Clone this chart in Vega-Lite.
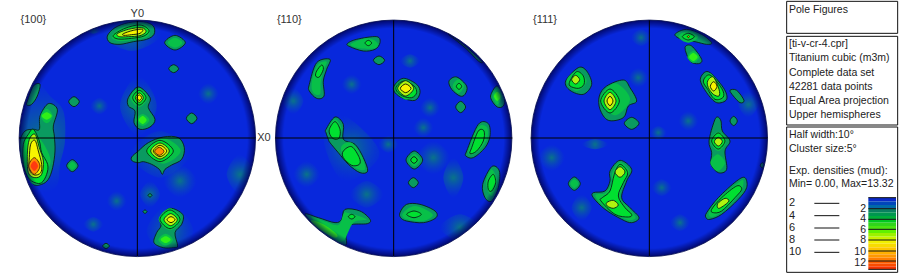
{"$schema":"https://vega.github.io/schema/vega-lite/v6.json","padding":0,"bounds":"flush","spacing":0,"background":"white","config":{"view":{"stroke":null}},
"datasets":{
"a":[
{"id":"a1","level":1,"xs":[655,625,595,625],"ys":[278,310,278,246]},
{"id":"a2","level":1,"xs":[326,298,270,298],"ys":[315,340,315,290]},
{"id":"a3","level":1,"xs":[85,105,150,190,195,180,170,120,75,60],"ys":[290,235,285,330,420,490,555,575,520,400]},
{"id":"a4","level":1,"xs":[310,280,250,280],"ys":[670,692,670,648]},
{"id":"a5","level":1,"xs":[380,350,320,350],"ys":[600,630,600,570]},
{"id":"a6","level":1,"xs":[590,540,490,540],"ys":[540,590,540,490]},
{"id":"a7","level":1,"xs":[480,450,420,450],"ys":[580,620,580,540]},
{"id":"a8","level":1,"xs":[485,395,305,395],"ys":[100,150,100,50]},
{"id":"a9","level":1,"xs":[570,480,390,480],"ys":[460,530,460,390]},
{"id":"a10","level":1,"xs":[470,415,360,415],"ys":[315,405,315,225]},
{"id":"a11","level":1,"xs":[580,510,440,510],"ys":[690,770,690,610]},
{"id":"a12","level":1,"xs":[760,720,680,720],"ys":[520,580,520,460]},
{"id":"a13","level":1,"xs":[305,280,255,280],"ys":[88,98,88,78]},
{"id":"a20","level":2,"xs":[322,345,385,430,460,462,440,400,360,330],"ys":[105,80,65,62,75,100,115,122,130,125]},
{"id":"a21","level":2,"xs":[556,525,494,525],"ys":[125,147,125,103]},
{"id":"a22","level":2,"xs":[536,521,506,521],"ys":[203,215,203,191]},
{"id":"a23","level":2,"xs":[82,100,120,112,95,80],"ys":[300,255,250,285,310,312]},
{"id":"a24","level":2,"xs":[238,222,206,222],"ys":[302,317,302,287]},
{"id":"a25","level":2,"xs":[120,145,172,160,163,165,158,145,125,100,75,62,60,75,100,118],"ys":[345,308,325,375,405,450,500,535,550,550,510,470,420,390,385,385]},
{"id":"a26","level":2,"xs":[234,217,200,217],"ys":[494,512,494,476]},
{"id":"a27","level":2,"xs":[385,415,450,445,465,450,420,402,405,385],"ys":[290,258,290,320,355,378,385,365,330,315]},
{"id":"a28","level":2,"xs":[591,575,559,575],"ys":[352,368,352,336]},
{"id":"a29","level":2,"xs":[395,415,445,490,535,553,545,515,495,487,478,455,430,415,397],"ys":[468,450,425,408,410,440,475,492,505,520,505,490,482,485,480]},
{"id":"a30","level":2,"xs":[456,450,444,450],"ys":[583,588,583,578]},
{"id":"a31","level":2,"xs":[441,435,429,435],"ys":[632,637,632,627]},
{"id":"a32","level":2,"xs":[480,510,548,545,525,533,520,490,462,470,483],"ys":[650,622,640,670,695,735,740,740,725,695,675]},
{"id":"a33","level":2,"xs":[328,318,308,318],"ys":[735,743,735,727]},
{"id":"a40","level":3,"xs":[335,370,430,450,440,400,355],"ys":[105,78,68,90,108,116,120]},
{"id":"a41","level":3,"xs":[547,525,503,525],"ys":[125,140,125,110]},
{"id":"a42","level":3,"xs":[158,140,122,140],"ys":[345,367,345,323]},
{"id":"a43","level":3,"xs":[152,100,66,100],"ys":[480,550,460,395]},
{"id":"a44","level":3,"xs":[228,217,206,217],"ys":[494,506,494,482]},
{"id":"a45","level":3,"xs":[448,428,408,428],"ys":[357,375,357,339]},
{"id":"a46","level":3,"xs":[443,417,391,417],"ys":[290,318,290,262]},
{"id":"a47","level":3,"xs":[542,490,438,490],"ys":[450,488,450,412]},
{"id":"a48","level":3,"xs":[519,497,475,497],"ys":[716,734,716,698]},
{"id":"a49","level":3,"xs":[544,510,476,510],"ys":[655,688,655,622]},
{"id":"a60","level":4,"xs":[340,375,420,447,432,395,355],"ys":[103,82,72,88,105,112,114]},
{"id":"a61","level":4,"xs":[85,100,118,125,143,140,125,105,85,70,70],"ys":[400,385,420,455,490,520,545,545,530,490,430]},
{"id":"a62","level":4,"xs":[438,418,398,418],"ys":[290,312,290,268]},
{"id":"a63","level":4,"xs":[520,480,440,480],"ys":[450,482,450,418]},
{"id":"a64","level":4,"xs":[540,510,480,510],"ys":[655,683,655,627]},
{"id":"a70","level":5,"xs":[440,428,416,428],"ys":[357,369,357,345]},
{"id":"a71","level":5,"xs":[512,497,482,497],"ys":[716,726,716,706]},
{"id":"a72","level":5,"xs":[155,140,125,140],"ys":[345,356,345,334]},
{"id":"a80","level":6,"xs":[352,385,425,438,420,385,358],"ys":[98,85,80,92,104,107,107]},
{"id":"a81","level":6,"xs":[88,105,118,130,125,105,85,82],"ys":[415,400,440,480,520,530,515,460]},
{"id":"a82","level":6,"xs":[430,418,406,418],"ys":[290,304,290,276]},
{"id":"a83","level":6,"xs":[508,480,452,480],"ys":[450,474,450,426]},
{"id":"a84","level":6,"xs":[532,512,492,512],"ys":[656,674,656,638]},
{"id":"a90","level":8,"xs":[370,400,428,420,395,372],"ys":[98,88,85,97,101,103]},
{"id":"a91","level":8,"xs":[92,105,115,125,122,103,88,88],"ys":[430,418,450,490,515,522,505,470]},
{"id":"a92","level":8,"xs":[425,418,411,418],"ys":[290,298,290,282]},
{"id":"a93","level":8,"xs":[500,480,460,480],"ys":[450,467,450,433]},
{"id":"a94","level":8,"xs":[525,513,501,513],"ys":[656,665,656,647]},
{"id":"a95","level":10,"xs":[120,103,86,103],"ys":[495,520,495,470]},
{"id":"a96","level":10,"xs":[492,478,464,478],"ys":[451,463,451,439]},
{"id":"a97","level":12,"xs":[114,103,92,103],"ys":[495,510,495,480]}
],
"b":[
{"id":"b1","level":1,"xs":[305,275,245,275],"ys":[250,280,250,220]},
{"id":"b2","level":1,"xs":[480,450,420,450],"ys":[180,200,180,160]},
{"id":"b3","level":1,"xs":[540,510,480,510],"ys":[320,350,320,290]},
{"id":"b4","level":1,"xs":[610,580,550,580],"ys":[530,590,530,470]},
{"id":"b5","level":1,"xs":[180,140,100,140],"ys":[520,560,520,480]},
{"id":"b6","level":1,"xs":[520,490,460,490],"ys":[380,410,380,350]},
{"id":"b7","level":1,"xs":[415,385,355,385],"ys":[430,455,430,405]},
{"id":"b8","level":1,"xs":[370,320,270,320],"ys":[580,620,580,540]},
{"id":"b9","level":1,"xs":[570,520,470,520],"ys":[470,520,470,420]},
{"id":"b10","level":1,"xs":[130,100,70,100],"ys":[300,340,300,260]},
{"id":"b11","level":1,"xs":[660,600,540,600],"ys":[680,720,680,640]},
{"id":"b12","level":1,"xs":[350,250,190,240,340],"ys":[480,540,410,340,420]},
{"id":"b20","level":2,"xs":[262,290,350,360,345,310,270],"ys":[128,115,107,125,145,150,137]},
{"id":"b21","level":2,"xs":[374,357,340,357],"ys":[178,191,178,165]},
{"id":"b22","level":2,"xs":[148,170,210,200,190,192,170,148],"ys":[250,185,175,205,240,285,292,270]},
{"id":"b23","level":2,"xs":[402,430,470,480,465,430,405],"ys":[255,232,250,275,298,292,275]},
{"id":"b24","level":2,"xs":[567,590,620,615,600,575],"ys":[240,228,255,280,285,265]},
{"id":"b25","level":2,"xs":[617,602,587,602],"ys":[318,335,318,301]},
{"id":"b26","level":2,"xs":[693,712,733,730,712,695],"ys":[280,255,290,315,318,298]},
{"id":"b27","level":2,"xs":[565,610,665,655,615],"ys":[100,130,180,180,140]},
{"id":"b28","level":2,"xs":[198,225,250,250,285,310,323,300,265,235,210,205,198],"ys":[385,348,370,415,430,470,510,515,490,455,425,415,395]},
{"id":"b29","level":2,"xs":[620,655,685,690,675,640,618],"ys":[450,370,368,405,440,470,465]},
{"id":"b30","level":2,"xs":[488,463,438,463],"ys":[477,504,477,450]},
{"id":"b31","level":2,"xs":[475,460,445,460],"ys":[545,560,545,530]},
{"id":"b32","level":2,"xs":[668,695,718,715,695,675],"ys":[550,497,510,560,600,590]},
{"id":"b33","level":2,"xs":[420,440,480,525,528,490,440,422],"ys":[635,610,610,630,650,665,660,650]},
{"id":"b34","level":2,"xs":[135,175,225,245,255,300,330,322,270,258,258,225,180],"ys":[640,650,665,655,625,630,655,668,672,700,732,722,690]},
{"id":"b40","level":3,"xs":[272,320,352,345,300],"ys":[130,112,125,142,142]},
{"id":"b41","level":3,"xs":[155,172,200,190,182,180,160],"ys":[245,192,182,210,245,280,275]},
{"id":"b42","level":3,"xs":[473,437,405,437],"ys":[270,296,262,236]},
{"id":"b43","level":3,"xs":[612,595,578,595],"ys":[255,277,255,235]},
{"id":"b44","level":3,"xs":[725,712,699,712],"ys":[286,311,286,261]},
{"id":"b45","level":3,"xs":[245,225,205,225],"ys":[385,415,385,355]},
{"id":"b46","level":3,"xs":[245,275,305,315,285,250],"ys":[435,425,465,505,500,465]},
{"id":"b47","level":3,"xs":[626,655,680,682,660,632],"ys":[445,378,378,410,445,462]},
{"id":"b48","level":3,"xs":[480,463,446,463],"ys":[477,496,477,458]},
{"id":"b49","level":3,"xs":[711,695,678,695],"ys":[545,585,545,505]},
{"id":"b50","level":3,"xs":[428,465,518,490,440],"ys":[638,615,640,660,655]},
{"id":"b51","level":3,"xs":[155,190,235,250,262,320,280,250,220],"ys":[650,660,672,640,635,655,665,720,712]},
{"id":"b60","level":4,"xs":[170,185,190,178,167],"ys":[210,192,205,228,225]},
{"id":"b61","level":4,"xs":[410,432,462,470,455,428,410],"ys":[255,240,255,275,290,285,270]},
{"id":"b62","level":4,"xs":[605,597,589,597],"ys":[256,265,256,247]},
{"id":"b63","level":4,"xs":[208,225,240,238,225,212],"ys":[385,362,385,410,415,405]},
{"id":"b64","level":4,"xs":[250,275,298,298,275,250],"ys":[450,437,470,490,493,470]},
{"id":"b65","level":4,"xs":[635,655,672,670,650,630],"ys":[440,390,390,420,450,458]},
{"id":"b66","level":4,"xs":[472,462,452,462],"ys":[477,487,477,467]},
{"id":"b67","level":4,"xs":[685,700,707,695,685],"ys":[540,520,545,570,565]},
{"id":"b68","level":4,"xs":[484,462,440,462],"ys":[640,650,640,630]},
{"id":"b69","level":4,"xs":[285,275,265,275],"ys":[647,654,647,640]},
{"id":"b70","level":4,"xs":[335,325,315,325],"ys":[126,134,126,118]},
{"id":"b71","level":5,"xs":[155,190,230,225,195,160],"ys":[658,670,700,710,695,670]},
{"id":"b72","level":5,"xs":[722,712,702,712],"ys":[286,300,286,272]},
{"id":"b80","level":6,"xs":[461,437,413,437],"ys":[262,285,262,239]},
{"id":"b90","level":8,"xs":[453,437,421,437],"ys":[262,275,262,249]}
],
"c":[
{"id":"c1","level":1,"xs":[408,378,348,378],"ys":[110,135,110,85]},
{"id":"c2","level":1,"xs":[470,440,410,440],"ys":[560,585,560,535]},
{"id":"c3","level":1,"xs":[525,495,465,495],"ys":[665,690,665,640]},
{"id":"c4","level":1,"xs":[230,200,170,200],"ys":[620,660,620,580]},
{"id":"c5","level":1,"xs":[455,430,405,430],"ys":[395,415,395,375]},
{"id":"c6","level":1,"xs":[550,520,490,520],"ys":[360,390,360,330]},
{"id":"c7","level":1,"xs":[730,700,670,700],"ys":[310,350,310,270]},
{"id":"c8","level":1,"xs":[400,370,340,370],"ys":[230,260,230,200]},
{"id":"c9","level":1,"xs":[280,240,200,240],"ys":[430,445,430,415]},
{"id":"c10","level":1,"xs":[150,110,70,110],"ys":[470,510,470,430]},
{"id":"c20","level":2,"xs":[152,190,215,230,205,165],"ys":[240,200,210,250,280,268]},
{"id":"c21","level":2,"xs":[253,275,325,345,365,340,325,280,255],"ys":[285,255,237,260,300,315,350,358,325]},
{"id":"c22","level":2,"xs":[372,350,328,350],"ys":[367,385,367,349]},
{"id":"c23","level":2,"xs":[480,515,560,590,575,540,500],"ys":[100,85,100,125,130,122,115]},
{"id":"c24","level":2,"xs":[510,530,560,550,525],"ys":[140,135,175,188,180]},
{"id":"c25","level":2,"xs":[556,580,625,635,605,575],"ys":[235,212,260,295,305,275]},
{"id":"c26","level":2,"xs":[645,665,687,675,655],"ys":[268,268,298,305,285]},
{"id":"c27","level":2,"xs":[667,656,645,656],"ys":[360,374,360,346]},
{"id":"c28","level":2,"xs":[598,608,618,622,645,630,635,610,588,590,582],"ys":[360,348,360,390,420,450,505,515,490,455,420]},
{"id":"c29","level":2,"xs":[748,742,736,742],"ys":[493,501,493,485]},
{"id":"c30","level":2,"xs":[285,315,350,335,320,345,372,350,320,270,235,235,270,285],"ys":[510,478,505,540,590,620,650,665,655,625,590,575,570,540]},
{"id":"c31","level":2,"xs":[196,178,160,178],"ys":[548,568,548,528]},
{"id":"c32","level":2,"xs":[575,610,665,690,695,670,620,585,573],"ys":[635,590,540,530,560,595,640,655,650]},
{"id":"c40","level":3,"xs":[215,185,155,185],"ys":[240,270,240,210]},
{"id":"c41","level":3,"xs":[345,300,255,300],"ys":[295,343,295,247]},
{"id":"c42","level":3,"xs":[550,520,490,520],"ys":[107,125,107,89]},
{"id":"c43","level":3,"xs":[553,535,517,535],"ys":[168,186,168,150]},
{"id":"c44","level":3,"xs":[565,585,622,630,603,578],"ys":[240,217,262,292,300,270]},
{"id":"c45","level":3,"xs":[630,608,586,608],"ys":[485,510,485,460]},
{"id":"c46","level":3,"xs":[292,315,342,328,315,340,362,345,318,268,243,245,272,290],"ys":[515,484,510,542,590,620,648,658,648,618,590,580,575,545]},
{"id":"c47","level":3,"xs":[190,178,166,178],"ys":[548,561,548,535]},
{"id":"c48","level":3,"xs":[582,612,665,685,680,665,620,590],"ys":[632,592,548,538,570,590,632,648]},
{"id":"c49","level":3,"xs":[634,610,586,610],"ys":[420,450,420,392]},
{"id":"c60","level":4,"xs":[165,185,205,207,190,165],"ys":[240,212,225,250,262,255]},
{"id":"c61","level":4,"xs":[313,285,257,285],"ys":[300,336,300,264]},
{"id":"c62","level":4,"xs":[538,520,502,520],"ys":[107,117,107,97]},
{"id":"c63","level":4,"xs":[565,585,620,625,600,578],"ys":[240,222,262,288,295,265]},
{"id":"c64","level":4,"xs":[630,610,590,610],"ys":[420,444,420,396]},
{"id":"c65","level":4,"xs":[298,315,338,325,310,330,350,340,300,258,262,285],"ys":[520,490,515,545,585,620,640,648,640,600,590,570]},
{"id":"c66","level":4,"xs":[590,620,665,680,660,620,595],"ys":[625,590,555,565,590,630,635]},
{"id":"c67","level":5,"xs":[548,535,522,535],"ys":[168,180,168,156]},
{"id":"c80","level":6,"xs":[194,182,170,182],"ys":[236,249,236,223]},
{"id":"c81","level":6,"xs":[303,285,267,285],"ys":[300,326,300,274]},
{"id":"c82","level":6,"xs":[578,595,612,612,595,580],"ys":[240,228,265,285,280,260]},
{"id":"c83","level":6,"xs":[622,610,598,610],"ys":[422,435,422,409]},
{"id":"c84","level":6,"xs":[330,315,300,315],"ys":[513,529,513,497]},
{"id":"c85","level":6,"xs":[275,295,310,295,277],"ys":[605,598,612,622,615]},
{"id":"c86","level":6,"xs":[608,630,642,625,610],"ys":[608,592,600,615,622]},
{"id":"c90","level":8,"xs":[294,285,276,285],"ys":[300,314,300,286]},
{"id":"c91","level":8,"xs":[606,596,586,596],"ys":[256,270,256,242]},
{"id":"c92","level":8,"xs":[523,520,517,520],"ys":[107,110,107,104]}
]},
"hconcat":[
{"width":265,"height":274,"encoding":{"x":{"field":"x","type":"quantitative","axis":null,"scale":{"domain":[0,795]}},"y":{"field":"y","type":"quantitative","axis":null,"scale":{"domain":[822,0]}}},
"layer":[
{"data":{"values":[{"x":412,"y":412}]},"mark":{"type":"circle","size":55900,"opacity":1,"color":"#0828dc"}},
{"data":{"name":"a"},"transform":[{"filter":"datum.level==1"},{"flatten":["xs","ys"],"as":["x","y"]}],"mark":{"type":"line","interpolate":"cardinal-closed","order":false,"strokeWidth":0,"fill":{"gradient":"radial","x1":0.5,"y1":0.5,"x2":0.5,"y2":0.5,"r1":0,"r2":0.5,"stops":[{"offset":0,"color":"rgba(10,130,120,0.85)"},{"offset":1,"color":"rgba(10,80,180,0)"}]}},"encoding":{"detail":{"field":"id"}}},
{"data":{"name":"a"},"transform":[{"filter":"datum.level>1"},{"flatten":["xs","ys"],"as":["x","y"]}],"mark":{"type":"line","interpolate":"cardinal-closed","order":false,"strokeWidth":0.9},"encoding":{"detail":{"field":"id"},"fill":{"field":"level","type":"ordinal","legend":null,"scale":{"domain":[2,3,4,5,6,8,10,12],"range":["#0a9a60","#08c048","#00e030","#30f018","#b0f410","#f8f400","#ff8c00","#ff3a10"]}},"stroke":{"field":"level","type":"ordinal","legend":null,"scale":{"domain":[2,3,4,5,6,8,10,12],"range":["#08201a","transparent","#08201a","transparent","#08201a","#101000","#402000","transparent"]}}}},
{"data":{"values":[{"x":412,"y":412}]},"mark":{"type":"circle","size":60516,"opacity":1,"filled":false,"stroke":"white","strokeWidth":10,"strokeJoin":"round"}},
{"data":{"values":[{"x":412,"y":412}]},"mark":{"type":"circle","size":55900,"opacity":1,"strokeWidth":0.8,"strokeJoin":"round","stroke":"#000a50","fill":{"gradient":"radial","x1":0.5,"y1":0.5,"x2":0.5,"y2":0.5,"r1":0,"r2":0.5,"stops":[{"offset":0,"color":"rgba(0,0,80,0)"},{"offset":0.93,"color":"rgba(0,0,80,0)"},{"offset":1,"color":"rgba(0,0,80,0.8)"}]}}},
{"data":{"values":[{"x":412,"y":60,"x2":412,"y2":765},{"x":57,"y":411,"x2":767,"y2":411}]},"mark":{"type":"rule","color":"#000","strokeWidth":1},"encoding":{"x2":{"field":"x2"},"y2":{"field":"y2"}}},
{"data":{"values":[{"x":412,"y":38,"t":"Y0"},{"x":100,"y":58,"t":"{100}"}]},"mark":{"type":"text","font":"Liberation Sans","fontSize":11,"color":"#333"},"encoding":{"text":{"field":"t"}}}
]},
{"width":256,"height":274,"encoding":{"x":{"field":"x","type":"quantitative","axis":null,"scale":{"domain":[15,783]}},"y":{"field":"y","type":"quantitative","axis":null,"scale":{"domain":[822,0]}}},
"layer":[
{"data":{"values":[{"x":401,"y":412}]},"mark":{"type":"circle","size":55900,"opacity":1,"color":"#0828dc"}},
{"data":{"name":"b"},"transform":[{"filter":"datum.level==1"},{"flatten":["xs","ys"],"as":["x","y"]}],"mark":{"type":"line","interpolate":"cardinal-closed","order":false,"strokeWidth":0,"fill":{"gradient":"radial","x1":0.5,"y1":0.5,"x2":0.5,"y2":0.5,"r1":0,"r2":0.5,"stops":[{"offset":0,"color":"rgba(10,130,120,0.85)"},{"offset":1,"color":"rgba(10,80,180,0)"}]}},"encoding":{"detail":{"field":"id"}}},
{"data":{"name":"b"},"transform":[{"filter":"datum.level>1"},{"flatten":["xs","ys"],"as":["x","y"]}],"mark":{"type":"line","interpolate":"cardinal-closed","order":false,"strokeWidth":0.9},"encoding":{"detail":{"field":"id"},"fill":{"field":"level","type":"ordinal","legend":null,"scale":{"domain":[2,3,4,5,6,8,10,12],"range":["#0a9a60","#08c048","#00e030","#30f018","#b0f410","#f8f400","#ff8c00","#ff3a10"]}},"stroke":{"field":"level","type":"ordinal","legend":null,"scale":{"domain":[2,3,4,5,6,8,10,12],"range":["#08201a","transparent","#08201a","transparent","#08201a","#101000","#402000","transparent"]}}}},
{"data":{"values":[{"x":401,"y":412}]},"mark":{"type":"circle","size":60516,"opacity":1,"filled":false,"stroke":"white","strokeWidth":10,"strokeJoin":"round"}},
{"data":{"values":[{"x":401,"y":412}]},"mark":{"type":"circle","size":55900,"opacity":1,"strokeWidth":0.8,"strokeJoin":"round","stroke":"#000a50","fill":{"gradient":"radial","x1":0.5,"y1":0.5,"x2":0.5,"y2":0.5,"r1":0,"r2":0.5,"stops":[{"offset":0,"color":"rgba(0,0,80,0)"},{"offset":0.93,"color":"rgba(0,0,80,0)"},{"offset":1,"color":"rgba(0,0,80,0.8)"}]}}},
{"data":{"values":[{"x":401,"y":58,"x2":401,"y2":765},{"x":45,"y":411,"x2":757,"y2":411}]},"mark":{"type":"rule","color":"#000","strokeWidth":1},"encoding":{"x2":{"field":"x2"},"y2":{"field":"y2"}}},
{"data":{"values":[{"x":88,"y":58,"t":"{110}"},{"x":12,"y":412,"t":"X0"}]},"mark":{"type":"text","font":"Liberation Sans","fontSize":11,"color":"#333"},"encoding":{"text":{"field":"t"}}}
]},
{"width":254,"height":274,"encoding":{"x":{"field":"x","type":"quantitative","axis":null,"scale":{"domain":[18,780]}},"y":{"field":"y","type":"quantitative","axis":null,"scale":{"domain":[822,0]}}},
"layer":[
{"data":{"values":[{"x":403,"y":412}]},"mark":{"type":"circle","size":55900,"opacity":1,"color":"#0828dc"}},
{"data":{"name":"c"},"transform":[{"filter":"datum.level==1"},{"flatten":["xs","ys"],"as":["x","y"]}],"mark":{"type":"line","interpolate":"cardinal-closed","order":false,"strokeWidth":0,"fill":{"gradient":"radial","x1":0.5,"y1":0.5,"x2":0.5,"y2":0.5,"r1":0,"r2":0.5,"stops":[{"offset":0,"color":"rgba(10,130,120,0.85)"},{"offset":1,"color":"rgba(10,80,180,0)"}]}},"encoding":{"detail":{"field":"id"}}},
{"data":{"name":"c"},"transform":[{"filter":"datum.level>1"},{"flatten":["xs","ys"],"as":["x","y"]}],"mark":{"type":"line","interpolate":"cardinal-closed","order":false,"strokeWidth":0.9},"encoding":{"detail":{"field":"id"},"fill":{"field":"level","type":"ordinal","legend":null,"scale":{"domain":[2,3,4,5,6,8,10,12],"range":["#0a9a60","#08c048","#00e030","#30f018","#b0f410","#f8f400","#ff8c00","#ff3a10"]}},"stroke":{"field":"level","type":"ordinal","legend":null,"scale":{"domain":[2,3,4,5,6,8,10,12],"range":["#08201a","transparent","#08201a","transparent","#08201a","#101000","#402000","transparent"]}}}},
{"data":{"values":[{"x":403,"y":412}]},"mark":{"type":"circle","size":60516,"opacity":1,"filled":false,"stroke":"white","strokeWidth":10,"strokeJoin":"round"}},
{"data":{"values":[{"x":403,"y":412}]},"mark":{"type":"circle","size":55900,"opacity":1,"strokeWidth":0.8,"strokeJoin":"round","stroke":"#000a50","fill":{"gradient":"radial","x1":0.5,"y1":0.5,"x2":0.5,"y2":0.5,"r1":0,"r2":0.5,"stops":[{"offset":0,"color":"rgba(0,0,80,0)"},{"offset":0.93,"color":"rgba(0,0,80,0)"},{"offset":1,"color":"rgba(0,0,80,0.8)"}]}}},
{"data":{"values":[{"x":403,"y":58,"x2":403,"y2":765},{"x":47,"y":411,"x2":758,"y2":411}]},"mark":{"type":"rule","color":"#000","strokeWidth":1},"encoding":{"x2":{"field":"x2"},"y2":{"field":"y2"}}},
{"data":{"values":[{"x":90,"y":58,"t":"{111}"}]},"mark":{"type":"text","font":"Liberation Sans","fontSize":11,"color":"#333"},"encoding":{"text":{"field":"t"}}}
]},
{"width":125,"height":274,"encoding":{"x":{"field":"x","type":"quantitative","axis":null,"scale":{"domain":[15,390]}},"y":{"field":"y","type":"quantitative","axis":null,"scale":{"domain":[822,0]}}},
"layer":[
{"data":{"values":[{"x":50,"x2":383,"y":1,"y2":97},{"x":50,"x2":383,"y":106,"y2":372},{"x":50,"x2":383,"y":378,"y2":814}]},"mark":{"type":"rect","fill":"white","stroke":"#111","strokeWidth":1},"encoding":{"x2":{"field":"x2"},"y2":{"field":"y2"}}},
{"data":{"values":[{"x":295,"x2":378,"y":590,"y2":601,"v":0},{"x":295,"x2":378,"y":601,"y2":612,"v":0.67},{"x":295,"x2":378,"y":612,"y2":623,"v":1.33},{"x":295,"x2":378,"y":623,"y2":634,"v":2},{"x":295,"x2":378,"y":634,"y2":645,"v":2.67},{"x":295,"x2":378,"y":645,"y2":655,"v":3.33},{"x":295,"x2":378,"y":655,"y2":665,"v":4},{"x":295,"x2":378,"y":665,"y2":675,"v":4.67},{"x":295,"x2":378,"y":675,"y2":685,"v":5.33},{"x":295,"x2":378,"y":685,"y2":696,"v":6},{"x":295,"x2":378,"y":696,"y2":707,"v":6.67},{"x":295,"x2":378,"y":707,"y2":717,"v":7.33},{"x":295,"x2":378,"y":717,"y2":728,"v":8},{"x":295,"x2":378,"y":728,"y2":739,"v":8.67},{"x":295,"x2":378,"y":739,"y2":750,"v":9.33},{"x":295,"x2":378,"y":750,"y2":760,"v":10},{"x":295,"x2":378,"y":760,"y2":770,"v":10.67},{"x":295,"x2":378,"y":770,"y2":780,"v":11.33},{"x":295,"x2":378,"y":780,"y2":788,"v":12},{"x":295,"x2":378,"y":788,"y2":796,"v":12.5},{"x":295,"x2":378,"y":796,"y2":805,"v":13}]},"mark":{"type":"rect"},"encoding":{"x2":{"field":"x2"},"y2":{"field":"y2"},"fill":{"field":"v","type":"quantitative","legend":null,"scale":{"domain":[0,1,2,3,4,6,8,10,12,13.3],"range":["#0a28c8","#0a50b0","#0a8060","#00a040","#00c820","#60f000","#f0f000","#ffb000","#ff6000","#f02000"]}}}},
{"data":{"values":[{"x":133,"x2":208,"y":607},{"x":133,"x2":208,"y":644},{"x":133,"x2":208,"y":681},{"x":133,"x2":208,"y":717},{"x":133,"x2":208,"y":754},{"x":295,"x2":378,"y":590},{"x":295,"x2":378,"y":623},{"x":295,"x2":378,"y":655},{"x":295,"x2":378,"y":685},{"x":295,"x2":378,"y":717},{"x":295,"x2":378,"y":750},{"x":295,"x2":378,"y":780},{"x":295,"x2":378,"y":805}]},"mark":{"type":"rule","color":"#111","strokeWidth":1},"encoding":{"x2":{"field":"x2"}}},
{"data":{"values":[{"x":57,"y":28,"t":"Pole Figures"},{"x":57,"y":130,"t":"[ti-v-cr-4.cpr]"},{"x":57,"y":172,"t":"Titanium cubic (m3m)"},{"x":57,"y":215,"t":"Complete data set"},{"x":57,"y":258,"t":"42281 data points"},{"x":57,"y":300,"t":"Equal Area projection"},{"x":57,"y":342,"t":"Upper hemispheres"},{"x":57,"y":402,"t":"Half width:10°"},{"x":57,"y":445,"t":"Cluster size:5°"},{"x":57,"y":510,"t":"Exp. densities (mud):"},{"x":57,"y":550,"t":"Min= 0.00, Max=13.32"}]},"mark":{"type":"text","font":"Liberation Sans","fontSize":10.5,"align":"left","color":"#222"},"encoding":{"text":{"field":"t"}}},
{"data":{"values":[{"x":57,"y":607,"t":"2"},{"x":57,"y":645,"t":"4"},{"x":57,"y":681,"t":"6"},{"x":57,"y":717,"t":"8"},{"x":57,"y":754,"t":"10"}]},"mark":{"type":"text","font":"Liberation Sans","fontSize":11,"align":"left","color":"#222"},"encoding":{"text":{"field":"t"}}},
{"data":{"values":[{"x":288,"y":625,"t":"2"},{"x":288,"y":655,"t":"4"},{"x":288,"y":686,"t":"6"},{"x":288,"y":717,"t":"8"},{"x":288,"y":752,"t":"10"},{"x":288,"y":785,"t":"12"}]},"mark":{"type":"text","font":"Liberation Sans","fontSize":10.5,"align":"right","color":"#222"},"encoding":{"text":{"field":"t"}}}
]}
]}
